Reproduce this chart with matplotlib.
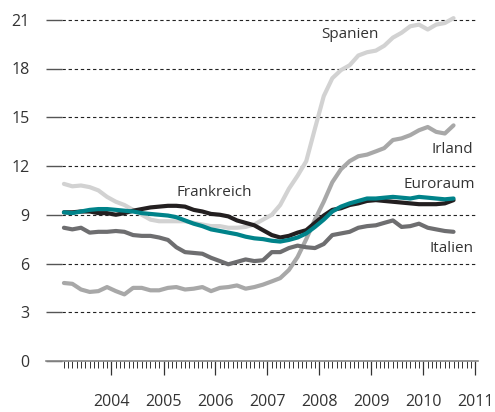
import matplotlib
matplotlib.use("Agg")
import matplotlib.pyplot as plt
import pandas as pd

# ---------------------------------------------------------------------------
# Data (bimonthly readings, Feb 2003 - Aug 2010)
# ---------------------------------------------------------------------------
dates = pd.date_range("2003-02-01", "2010-08-01", freq="2MS")

spanien = [10.9, 10.75, 10.8, 10.7, 10.5, 10.1, 9.8, 9.6, 9.3, 9.0, 8.7, 8.6,
           8.6, 8.6, 8.6, 8.5, 8.4, 8.3, 8.3, 8.2, 8.2, 8.25, 8.4, 8.7,
           9.0, 9.6, 10.6, 11.4, 12.3, 14.3, 16.3, 17.4, 17.9, 18.2, 18.8, 19.0,
           19.1, 19.4, 19.9, 20.2, 20.6, 20.7, 20.4, 20.7, 20.8, 21.1]
irland = [4.8, 4.75, 4.4, 4.25, 4.3, 4.55, 4.3, 4.1, 4.5, 4.5, 4.35, 4.35,
          4.5, 4.55, 4.4, 4.45, 4.55, 4.3, 4.5, 4.55, 4.65, 4.45, 4.55, 4.7,
          4.9, 5.1, 5.6, 6.4, 7.5, 8.7, 9.8, 11.0, 11.8, 12.3, 12.6, 12.7,
          12.9, 13.1, 13.6, 13.7, 13.9, 14.2, 14.4, 14.1, 14.0, 14.5]
italien = [8.2, 8.1, 8.2, 7.9, 7.95, 7.95, 8.0, 7.95, 7.75, 7.7, 7.7, 7.6,
           7.45, 7.0, 6.7, 6.65, 6.6, 6.35, 6.15, 5.95, 6.1, 6.25, 6.15, 6.2,
           6.7, 6.7, 6.95, 7.1, 7.0, 6.95, 7.2, 7.75, 7.85, 7.95, 8.2, 8.3,
           8.35, 8.5, 8.65, 8.25, 8.3, 8.45, 8.2, 8.1, 8.0, 7.95]
frankreich = [9.15, 9.15, 9.2, 9.2, 9.1, 9.1, 9.0, 9.1, 9.25, 9.35, 9.45, 9.5,
              9.55, 9.55, 9.5, 9.3, 9.2, 9.05, 9.0, 8.9, 8.65, 8.5, 8.35, 8.05,
              7.75, 7.6, 7.7, 7.9, 8.05, 8.5, 8.95, 9.3, 9.4, 9.6, 9.7, 9.85,
              9.9, 9.85, 9.8, 9.75, 9.7, 9.65, 9.65, 9.65, 9.7, 9.9]
euroraum = [9.15, 9.1, 9.2, 9.3, 9.35, 9.35, 9.3, 9.25, 9.2, 9.1, 9.05, 9.0,
            8.95, 8.85, 8.65, 8.45, 8.3, 8.1, 8.0, 7.9, 7.8, 7.65, 7.55, 7.5,
            7.4, 7.35, 7.45, 7.6, 7.85, 8.25, 8.7, 9.2, 9.5, 9.7, 9.85, 10.0,
            10.0, 10.05, 10.1, 10.05, 10.0, 10.1, 10.05, 10.0, 9.95, 10.0]

y_ticks = [0, 3, 6, 9, 12, 15, 18, 21]
year_labels = ["2004", "2005", "2006", "2007", "2008", "2009", "2010", "2011"]

TEXT = "#333333"
plt.rcParams["font.family"] = ["Open Sans", "DejaVu Sans"]

# ---------------------------------------------------------------------------
# Figure
# ---------------------------------------------------------------------------
fig = plt.figure(figsize=(4.95, 4.12), dpi=100)
ax = fig.add_axes([46 / 495, 51 / 412, 432 / 495, 351 / 412])

# dashed grid, starting where the data starts
for y in y_ticks[1:]:
    ax.axhline(y, xmin=16 / 432, xmax=1, color="#222222", lw=0.8,
               ls=(0, (3, 2.5)), zorder=1)

series = [
    (spanien, "#d2d2d2"),
    (irland, "#a8a8a8"),
    (italien, "#6e6e70"),
    (frankreich, "#231f20"),
    (euroraum, "#00838a"),
]
for vals, col in series:
    ax.plot(dates, vals, color=col, lw=3.0, solid_capstyle="round",
            solid_joinstyle="round", zorder=3)

# labels
lab = dict(fontsize=11, color=TEXT, va="center")
ax.text(pd.Timestamp("2005-04-01"), 10.4, "Frankreich", ha="left", **lab)
ax.text(pd.Timestamp("2008-01-15"), 20.1, "Spanien", ha="left", **lab)
ax.text(pd.Timestamp("2010-12-20"), 13.0, "Irland", ha="right", **lab)
ax.text(pd.Timestamp("2011-01-01"), 10.85, "Euroraum", ha="right", **lab)
ax.text(pd.Timestamp("2010-12-20"), 6.95, "Italien", ha="right", **lab)

# axes
ax.set_xlim(pd.Timestamp("2002-09-28"), pd.Timestamp("2011-01-20"))
ax.set_ylim(0, 21.6)
for s in ["left", "right", "top"]:
    ax.spines[s].set_visible(False)
ax.spines["bottom"].set_color("#888888")
ax.spines["bottom"].set_linewidth(1.2)

ax.set_yticks(y_ticks)
ax.set_yticklabels([str(v) for v in y_ticks])
ax.tick_params(axis="y", direction="in", length=11.5, width=1.0,
               color="#555555", pad=12, labelsize=11.5, labelcolor=TEXT)

major = [pd.Timestamp(f"{y}-01-01") for y in year_labels]
minor = pd.date_range("2003-02-01", "2010-12-01", freq="MS")
ax.set_xticks(major)
ax.set_xticklabels(year_labels)
ax.set_xticks(minor, minor=True)
ax.tick_params(axis="x", which="major", direction="out", length=10, width=0.9,
               color="#333333", pad=14, labelsize=11.5, labelcolor=TEXT)
ax.tick_params(axis="x", which="minor", direction="out", length=5, width=0.7,
               color="#333333")

fig.savefig("out.png", dpi=100)
